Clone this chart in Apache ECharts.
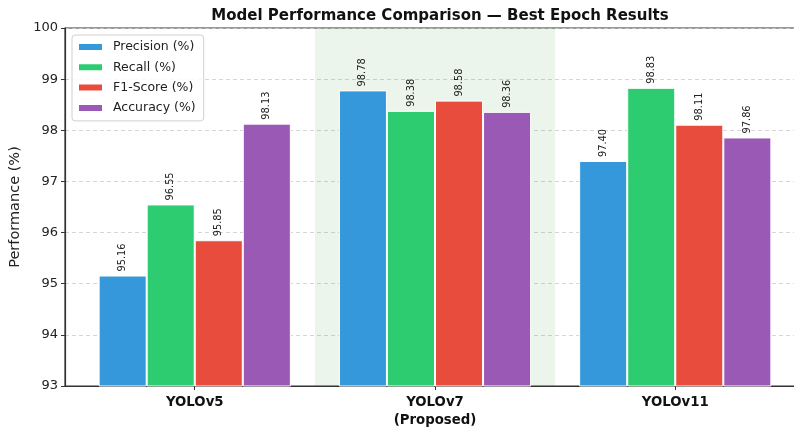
<!DOCTYPE html>
<html>
<head>
<meta charset="utf-8">
<script src="https://cdn.jsdelivr.net/npm/echarts@6/dist/echarts.min.js"></script>
<style>
  html, body { margin: 0; padding: 0; background: #fff; }
  #chart { width: 794px; height: 432px; }
</style>
</head>
<body>
<div id="chart"></div>
<script>
const categories = ['YOLOv5', 'YOLOv7\n(Proposed)', 'YOLOv11']
const precision = [95.16, 98.78, 97.40]
const recall = [96.55, 98.38, 98.83]
const f1Score = [95.85, 98.58, 98.11]
const accuracy = [98.13, 98.36, 97.86]
const seriesNames = ['Precision (%)', 'Recall (%)', 'F1-Score (%)', 'Accuracy (%)']
const seriesColors = ['#3498db', '#2ecc71', '#e74c3c', '#9b59b6']
const highlightIndex = 1

const font = 'DejaVu Sans'
const chart = echarts.init(document.getElementById('chart'))

function barSeries(name, values, color) {
  return {
    name: name,
    type: 'bar',
    z: 3,
    barGap: '0%',
    barCategoryGap: '20%',
    data: values.map((v, i) => [i, v]),
    itemStyle: { color: color, borderColor: '#fff', borderWidth: 1 },
    label: {
      show: true,
      position: 'top',
      distance: 4,
      rotate: 90,
      align: 'left',
      verticalAlign: 'middle',
      fontFamily: font,
      fontSize: 9.8,
      color: '#222',
      formatter: p => p.value[1].toFixed(2)
    }
  }
}

const series = [precision, recall, f1Score, accuracy].map((vals, k) =>
  barSeries(seriesNames[k], vals, seriesColors[k]))

// shaded band behind the proposed model (line series so it takes no bar slot)
series.push({
  type: 'line',
  name: 'band',
  z: 1,
  data: [],
  markArea: {
    silent: true,
    itemStyle: { color: 'rgba(0,128,0,0.08)' },
    data: [[{ xAxis: highlightIndex - 0.5 }, { xAxis: highlightIndex + 0.5 }]]
  }
})

chart.setOption({
  animation: false,
  title: {
    text: 'Model Performance Comparison \u2014 Best Epoch Results',
    left: 435,
    textAlign: 'center',
    top: 4,
    textStyle: { fontFamily: font, fontSize: 15, fontWeight: 'bold', color: '#111' }
  },
  legend: {
    data: seriesNames,
    orient: 'vertical',
    left: 72,
    top: 35,
    icon: 'rect',
    itemWidth: 25,
    itemHeight: 8,
    itemGap: 6.3,
    padding: [5, 8, 6, 5],
    backgroundColor: 'rgba(255,255,255,0.85)',
    borderColor: '#d0d0d0',
    borderWidth: 1,
    borderRadius: 3,
    textStyle: { fontFamily: font, fontSize: 12.5, color: '#222', lineHeight: 14, padding: [0, 0, 0, 5] }
  },
  grid: {
    left: 65,
    width: 740,
    top: 28,
    bottom: 46,
    outerBoundsMode: 'none',
    show: true,
    borderColor: '#333',
    borderWidth: 1.2
  },
  xAxis: {
    type: 'value',
    min: -0.54,
    max: 2.54,
    splitLine: { show: false },
    axisLine: { onZero: false, lineStyle: { color: '#333', width: 1.2 } },
    axisTick: { show: true, customValues: [0, 1, 2], length: 4, lineStyle: { color: '#333' } },
    axisLabel: {
      customValues: [0, 1, 2],
      formatter: v => categories[Math.round(v)],
      fontFamily: font,
      fontSize: 13.3,
      fontWeight: 'bold',
      color: '#111',
      lineHeight: 18,
      margin: 8
    }
  },
  yAxis: {
    type: 'value',
    min: 93,
    max: 100,
    interval: 1,
    name: 'Performance (%)',
    nameLocation: 'middle',
    nameGap: 31,
    nameTextStyle: { fontFamily: font, fontSize: 14.5, color: '#222' },
    axisLine: { show: true, onZero: false, lineStyle: { color: '#333', width: 1.2 } },
    axisTick: { show: true, length: 4, lineStyle: { color: '#333' } },
    axisLabel: { fontFamily: font, fontSize: 13, color: '#222', margin: 7 },
    splitLine: { show: true, lineStyle: { color: '#ccc', type: [4, 3], width: 0.8 } }
  },
  series: series
})
</script>
</body>
</html>
